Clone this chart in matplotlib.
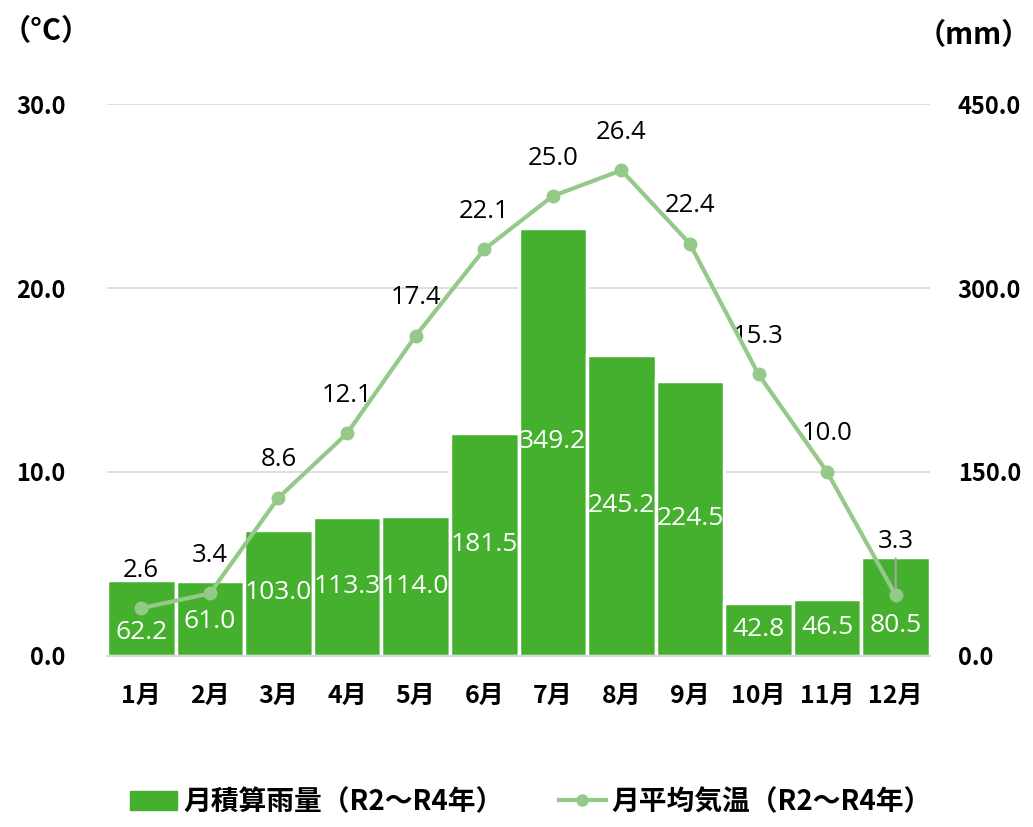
import matplotlib
matplotlib.use('Agg')
import matplotlib.pyplot as plt
from matplotlib.patches import Patch
from matplotlib.lines import Line2D

plt.rcParams['font.family'] = ['Noto Sans CJK JP', 'DejaVu Sans']
num_font = ['Open Sans', 'DejaVu Sans']

months = ['1月', '2月', '3月', '4月', '5月', '6月', '7月', '8月', '9月', '10月', '11月', '12月']
rain = [62.2, 61.0, 103.0, 113.3, 114.0, 181.5, 349.2, 245.2, 224.5, 42.8, 46.5, 80.5]
temp = [2.6, 3.4, 8.6, 12.1, 17.4, 22.1, 25.0, 26.4, 22.4, 15.3, 10.0, 3.3]
temp_ticks = [0, 10, 20, 30]
rain_ticks = [0, 150, 300, 450]

bar_color = '#45b02e'
line_color = '#94c98a'

fig = plt.figure(figsize=(10.33, 8.27), dpi=100)
ax2 = fig.add_axes([0.1036, 0.2068, 0.7967, 0.6674])  # 雨量(右軸)
ax = ax2.twinx()
ax.yaxis.tick_left()
ax2.yaxis.tick_right()

x = list(range(len(months)))

# 月積算雨量の棒
ax2.bar(x, rain, width=1.0, color=bar_color, edgecolor='white', linewidth=2.5, zorder=2)
ax2.set_ylim(0, 450)
ax2.set_xlim(-0.5, 11.5)
ax2.set_yticks(rain_ticks)
ax2.set_yticklabels([f'{v:.1f}' for v in rain_ticks], fontsize=17, fontweight='bold')
ax2.grid(axis='y', color='#d9d9d9', linewidth=1.2, zorder=0)
ax2.set_axisbelow(True)

# 棒の中の数値(端の月は折れ線の点と重ならないよう下げる)
shift = {0: -15, 1: -3, 11: -19}
for i, v in enumerate(rain):
    ax2.annotate(f'{v:.1f}', (i, v / 2), xytext=(0, shift.get(i, 0)), textcoords='offset pixels',
                 ha='center', va='center', color='white', fontsize=19, family=num_font, zorder=5)

# 月平均気温の折れ線
ax.plot(x, temp, color=line_color, linewidth=3, marker='o', markersize=9, zorder=4)
ax.set_ylim(0, 30)
ax.set_yticks(temp_ticks)
ax.set_yticklabels([f'{v:.1f}' for v in temp_ticks], fontsize=17, fontweight='bold')
for i, v in enumerate(temp):
    if i == 11:
        ax.annotate(f'{v:.1f}', (i, v), xytext=(0, 54), textcoords='offset pixels',
                    ha='center', va='center', fontsize=18.5, fontweight='medium', family=num_font)
        ax.annotate('', (i, v), xytext=(0, 37), textcoords='offset pixels',
                    arrowprops=dict(arrowstyle='-', color='#a6a6a6', lw=1.5, shrinkA=0, shrinkB=3))
    else:
        ax.annotate(f'{v:.1f}', (i, v), xytext=(0, 38), textcoords='offset pixels',
                    ha='center', va='center', fontsize=18.5, fontweight='medium', family=num_font)

ax2.set_xticks(x)
ax2.set_xticklabels(months, fontsize=18, fontweight='bold')

for a in (ax, ax2):
    for s in a.spines.values():
        s.set_visible(False)
    a.tick_params(length=0)
ax2.spines['bottom'].set_visible(True)
ax2.spines['bottom'].set_color('#d9d9d9')
ax2.spines['bottom'].set_linewidth(1.5)
ax.tick_params(axis='y', pad=30)
ax2.tick_params(axis='y', pad=20)
ax2.tick_params(axis='x', pad=20)

# 軸の単位
fig.text(0.002, 0.963, '（°C）', fontsize=21, fontweight='bold', va='center', ha='left')
fig.text(0.998, 0.957, '（mm）', fontsize=21, fontweight='bold', va='center', ha='right')

handles = [Patch(color=bar_color),
           Line2D([0], [0], color=line_color, linewidth=3, marker='o', markersize=8)]
fig.legend(handles, ['月積算雨量（R2～R4年）', '月平均気温（R2～R4年）'],
           loc='center', bbox_to_anchor=(0.514, 0.03), ncol=2, frameon=False,
           prop={'size': 20, 'weight': 'bold'}, handlelength=1.7, handleheight=0.7,
           columnspacing=2.0, handletextpad=0.2)

fig.savefig('out.png', dpi=100)
